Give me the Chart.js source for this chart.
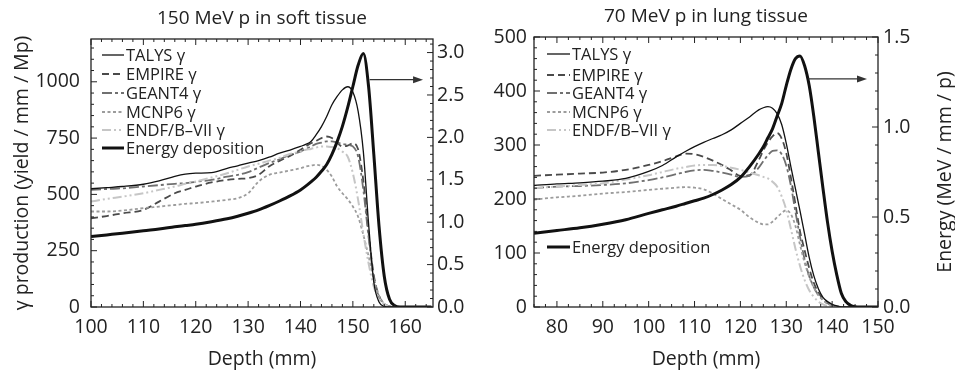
<!DOCTYPE html>
<html>
<head>
<meta charset="utf-8">
<script src="https://cdn.jsdelivr.net/npm/chart.js@4.4.1/dist/chart.umd.min.js"></script>
<style>
body { margin: 0; background: #fff; }
#wrap { position: relative; width: 955px; height: 371px; }
#soft { position: absolute; left: 0; top: 0; }
#lung { position: absolute; left: 478px; top: 0; }
</style>
</head>
<body>
<div id="wrap">
<canvas id="soft" width="478" height="371"></canvas>
<canvas id="lung" width="477" height="371"></canvas>
</div>
<script>
// ---- 150 MeV p in soft tissue ----
var depth_soft = [100,103,106,110,113,116,118,120,123,126,128,130,132,134,136,138,140,141,142,143,144,145,146,147,148,149,150,151,152,153,154,155,156,157,158,159,160,162,165];
var talys_soft = [525,530,535,545,560,580,590,594,597,616,627,639,650,665,683,697,713,722,735,765,801,846,898,935,964,978,955,870,690,370,110,22,3,0,0,0,0,0,0];
var empire_soft = [394,404,416,431,468,505,520,535,553,564,569,572,587,624,649,671,698,713,727,738,750,757,750,730,713,717,727,700,560,330,140,50,14,3,0,0,0,0,0];
var geant4_soft = [520,524,527,535,541,547,550,556,564,579,587,599,619,639,656,676,690,701,713,724,730,735,735,730,724,720,713,668,520,310,130,45,12,2,0,0,0,0,0];
var mcnp6_soft = [424,424,428,439,446,453,458,461,468,476,483,505,557,587,597,606,616,624,628,631,627,609,579,535,505,479,446,401,320,225,120,50,15,3,0,0,0,0,0];
var endf_soft = [468,480,490,505,520,535,547,557,575,594,609,624,636,650,662,680,690,698,702,708,713,713,710,705,690,668,594,476,327,194,90,39,13,0,0,0,0,0,0];
var energy_soft = [0.83,0.85,0.87,0.90,0.92,0.945,0.96,0.975,1.005,1.04,1.07,1.105,1.145,1.195,1.25,1.31,1.38,1.425,1.475,1.53,1.60,1.68,1.80,1.95,2.13,2.35,2.60,2.85,2.99,2.60,1.80,0.95,0.36,0.09,0.015,0,0,0,0];
var soft_x_ticks = [100,110,120,130,140,150,160];
var soft_y_ticks = [0,250,500,750,1000];
var soft_y1_ticks = [0,0.5,1,1.5,2,2.5,3];

// ---- 70 MeV p in lung tissue ----
var depth_lung = [75,80,85,90,95,100,103,106,108,110,112,114,116,118,120,122,124,125,126,127,128,129,130,131,132,133,134,135,136,137,138,139,140,141,142,143,144,145,146,148,150];
var talys_lung = [225,228,230,233,238,251,262,278,288,297,305,312,319,328,340,352,365,369,371,368,358,338,303,260,219,178,135,92,58,34,18,10,5,2,0,0,0,0,0,0,0];
var empire_lung = [243,245,247,249,254,263,270,279,284,283,278,271,263,253,243,244,272,290,305,316,322,312,285,240,190,140,105,72,45,27,15,8,4,1,0,0,0,0,0,0,0];
var geant4_lung = [220,223,224,226,229,235,240,246,250,253,254,252,249,245,241,243,258,270,281,289,290,283,262,225,176,130,88,57,37,22,13,7,3,1,0,0,0,0,0,0,0];
var mcnp6_lung = [199,203,206,210,213,217,219,221,222,221,218,210,200,190,180,166,156,153,153,158,166,174,179,172,150,115,82,56,36,22,13,6,3,0,0,0,0,0,0,0,0];
var endf_lung = [220,223,226,229,236,244,250,256,259,262,263,263,261,258,254,249,244,241,238,232,223,205,180,145,108,76,50,31,19,10,5,2,0,0,0,0,0,0,0,0,0];
var energy_lung = [0.41,0.425,0.44,0.46,0.485,0.52,0.54,0.56,0.575,0.59,0.605,0.625,0.65,0.68,0.72,0.78,0.85,0.89,0.94,0.99,1.06,1.13,1.23,1.32,1.38,1.395,1.34,1.23,1.06,0.86,0.66,0.47,0.31,0.18,0.076,0.03,0.01,0.002,0,0,0];
var lung_x_ticks = [80,90,100,110,120,130,140,150];
var lung_y_ticks = [0,100,200,300,400,500];
var lung_y1_ticks = [0,0.5,1,1.5];

var seriesNames = ["TALYS \u03b3", "EMPIRE \u03b3", "GEANT4 \u03b3", "MCNP6 \u03b3", "ENDF/B\u2013VII \u03b3", "Energy deposition"];
var lineColors = ["#111111", "#4a4a4a", "#707070", "#9c9c9c", "#c6c6c6", "#111111"];
var lineWidths = [1.3, 1.8, 1.8, 1.8, 2, 3];
var lineDashes = [[], [7, 4], [10, 3, 3, 3], [3, 2.5], [9, 3, 2, 3, 2, 3], []];

Chart.defaults.font.family = "'Open Sans', sans-serif";
Chart.defaults.color = "#222";

function pts(xs, ys) {
    return xs.map(function(x, i) { return { x: x, y: ys[i] }; });
}

function makeSets(xs, list) {
    return list.map(function(ys, i) {
        return {
            label: seriesNames[i],
            data: pts(xs, ys),
            yAxisID: i == 5 ? "y1" : "y",
            borderColor: lineColors[i],
            borderWidth: lineWidths[i],
            borderDash: lineDashes[i],
            pointRadius: 0,
            cubicInterpolationMode: "monotone",
            order: i == 5 ? 0 : (i == 0 ? 1 : 6 - i),
        };
    });
}

function fixedTicks(list) {
    return function(s) { s.ticks = list.map(function(v) { return { value: v }; }); };
}

function eachStep(min, max, minor, major, fn) {
    var v = Math.ceil(min / minor - 1e-6) * minor;
    for (; v <= max + 1e-6; v += minor) {
        var r = v / major;
        fn(v, Math.abs(r - Math.round(r)) < 1e-6);
    }
}

// frame + inward major/minor ticks on all four sides, arrow, legend, side title
var frameTicks = {
    id: "frameTicks",
    afterDraw: function(chart, args, o) {
        var ctx = chart.ctx, a = chart.chartArea;
        ctx.save();
        ctx.strokeStyle = "#222";
        ctx.lineWidth = 1.3;
        ctx.strokeRect(a.left, a.top, a.right - a.left, a.bottom - a.top);
        ctx.lineWidth = 1;
        ctx.beginPath();
        var sx = chart.scales.x, sy = chart.scales.y, sy1 = chart.scales.y1;
        eachStep(sx.min, sx.max, o.x[0], o.x[1], function(v, big) {
            var p = sx.getPixelForValue(v), l = big ? 6 : 3;
            ctx.moveTo(p, a.bottom); ctx.lineTo(p, a.bottom - l);
            ctx.moveTo(p, a.top); ctx.lineTo(p, a.top + l);
        });
        eachStep(sy.min, sy.max, o.y[0], o.y[1], function(v, big) {
            var p = sy.getPixelForValue(v), l = big ? 6 : 3;
            ctx.moveTo(a.left, p); ctx.lineTo(a.left + l, p);
        });
        eachStep(sy1.min, sy1.max, o.y1[0], o.y1[1], function(v, big) {
            var p = sy1.getPixelForValue(v), l = big ? 6 : 3;
            ctx.moveTo(a.right, p); ctx.lineTo(a.right - l, p);
        });
        ctx.stroke();

        var ar = o.arrow;
        var x0 = sx.getPixelForValue(ar[0]), x1 = sx.getPixelForValue(ar[1]), y = sy1.getPixelForValue(ar[2]);
        ctx.strokeStyle = "#333";
        ctx.fillStyle = "#333";
        ctx.lineWidth = 1.2;
        ctx.beginPath();
        ctx.moveTo(x0, y); ctx.lineTo(x1 - 6, y);
        ctx.stroke();
        ctx.beginPath();
        ctx.moveTo(x1, y); ctx.lineTo(x1 - 10, y - 3.5); ctx.lineTo(x1 - 10, y + 3.5);
        ctx.closePath();
        ctx.fill();

        var lg = o.legend;
        ctx.font = "16.5px 'Open Sans', sans-serif";
        ctx.textBaseline = "middle";
        ctx.textAlign = "left";
        lg.rows.forEach(function(r) {
            var ds = chart.data.datasets[r[0]];
            ctx.strokeStyle = ds.borderColor;
            ctx.lineWidth = ds.borderWidth;
            ctx.setLineDash(ds.borderDash);
            ctx.beginPath();
            ctx.moveTo(lg.x0, r[1]); ctx.lineTo(lg.x1, r[1]);
            ctx.stroke();
            ctx.setLineDash([]);
            ctx.fillStyle = "#222";
            ctx.fillText(ds.label, lg.tx, r[1] + 1);
        });

        if (o.sideTitle) {
            ctx.save();
            ctx.translate(o.sideTitle.x, (a.top + a.bottom) / 2);
            ctx.rotate(-Math.PI / 2);
            ctx.textAlign = "center";
            ctx.font = "19.5px 'Open Sans', sans-serif";
            ctx.fillStyle = "#222";
            ctx.fillText(o.sideTitle.text, 0, 0);
            ctx.restore();
        }
        ctx.restore();
    }
};

function makeChart(id, c) {
    var ctx = document.getElementById(id).getContext("2d");
    return new Chart(ctx, {
        type: "line",
        data: { datasets: c.sets },
        plugins: [frameTicks],
        options: {
            responsive: false,
            animation: false,
            devicePixelRatio: 1,
            layout: { padding: { left: c.padLeft, right: 0, top: 0, bottom: 0 } },
            plugins: {
                legend: { display: false },
                tooltip: { enabled: false },
                title: {
                    display: true,
                    text: c.title,
                    fullSize: false,
                    font: { size: 19, weight: "normal" },
                    color: "#222",
                    padding: { top: c.titleTop, bottom: c.titleBottom },
                },
                frameTicks: c.deco,
            },
            scales: {
                x: {
                    type: "linear",
                    min: c.xMin, max: c.xMax,
                    grid: { display: false, drawTicks: false },
                    border: { display: false },
                    ticks: { padding: 9, font: { size: 19.5 }, maxRotation: 0, autoSkip: false,
                        callback: function(v) { return String(v); } },
                    afterBuildTicks: fixedTicks(c.xTicks),
                    title: { display: true, text: "Depth (mm)", font: { size: 19.5 }, padding: 0 },
                    afterFit: function(s) { s.height = 64; },
                },
                y: {
                    position: "left",
                    min: c.yMin, max: c.yMax,
                    grid: { display: false, drawTicks: false },
                    border: { display: false },
                    ticks: { padding: c.yPad, font: { size: 19.5 }, autoSkip: false,
                        callback: function(v) { return String(v); } },
                    afterBuildTicks: fixedTicks(c.yTicks),
                    title: { display: !!c.yTitle, text: c.yTitle, font: { size: 19.5 }, padding: 0 },
                    afterFit: function(s) { s.width = c.yWidth; },
                },
                y1: {
                    position: "right",
                    min: 0, max: c.y1Max,
                    grid: { display: false, drawTicks: false },
                    border: { display: false },
                    ticks: {
                        padding: c.y1Pad, font: { size: 19.5 }, autoSkip: false,
                        callback: function(v) { return v.toFixed(1); },
                    },
                    afterBuildTicks: fixedTicks(c.y1Ticks),
                    afterFit: function(s) { s.width = c.y1Width; },
                },
            },
        },
    });
}

makeChart("soft", {
    title: "150 MeV p in soft tissue",
    sets: makeSets(depth_soft, [talys_soft, empire_soft, geant4_soft, mcnp6_soft, endf_soft, energy_soft]),
    padLeft: 11, titleTop: 7, titleBottom: 9.2,
    xMin: 100, xMax: 165.3, xTicks: soft_x_ticks,
    yMin: 0, yMax: 1190, yTicks: soft_y_ticks, yPad: 11, yWidth: 80,
    yTitle: "\u03b3 production (yield / mm / Mp)",
    y1Max: 3.16, y1Ticks: soft_y1_ticks, y1Pad: 4, y1Width: 45,
    deco: {
        x: [2, 10], y: [50, 250], y1: [0.1, 0.5],
        arrow: [153.2, 163.4, 2.68],
        legend: { x0: 102, x1: 124, tx: 126, rows: [[0, 55], [1, 74], [2, 93], [3, 112], [4, 130], [5, 148]] },
    },
});

makeChart("lung", {
    title: "70 MeV p in lung tissue",
    sets: makeSets(depth_lung, [talys_lung, empire_lung, geant4_lung, mcnp6_lung, endf_lung, energy_lung]),
    padLeft: 0, titleTop: 5, titleBottom: 9.2,
    xMin: 75, xMax: 150, xTicks: lung_x_ticks,
    yMin: 0, yMax: 500, yTicks: lung_y_ticks, yPad: 7, yWidth: 56,
    yTitle: "",
    y1Max: 1.5, y1Ticks: lung_y1_ticks, y1Pad: 5, y1Width: 77,
    deco: {
        x: [2.5, 10], y: [20, 100], y1: [0.1, 0.5],
        arrow: [134.8, 147.6, 1.267],
        legend: { x0: 69, x1: 92, tx: 94, rows: [[0, 54], [1, 75], [2, 93], [3, 112], [4, 130], [5, 247]] },
        sideTitle: { text: "Energy (MeV / mm / p)", x: 467 },
    },
});
</script>
</body>
</html>
